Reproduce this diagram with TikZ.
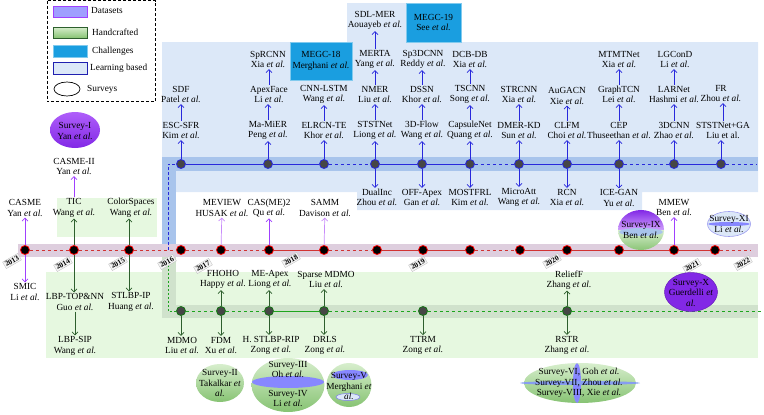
\documentclass[tikz,border=0pt]{standalone}
\usepackage{fontspec}
\setmainfont{Liberation Serif}
\usetikzlibrary{arrows.meta}

\definecolor{dsviolet}{RGB}{160,64,255}
\definecolor{dslight}{RGB}{200,140,250}
\definecolor{hcgreen}{RGB}{45,95,45}
\definecolor{lbblue}{RGB}{40,40,220}
\definecolor{lbfill}{RGB}{220,232,248}
\definecolor{lbband}{RGB}{168,196,236}
\definecolor{hcfill}{RGB}{230,248,224}
\definecolor{hcband}{RGB}{208,226,204}
\definecolor{tlband}{RGB}{222,206,222}
\definecolor{megc}{RGB}{26,158,224}
\definecolor{tlred}{RGB}{210,50,50}
\definecolor{hcline}{RGB}{30,165,30}
\definecolor{nodegray}{RGB}{70,70,70}
\definecolor{svtop}{RGB}{215,238,205}
\definecolor{svbot}{RGB}{135,195,115}
\definecolor{svvtop}{RGB}{175,95,250}
\definecolor{svvbot}{RGB}{130,40,230}
\definecolor{lavband}{RGB}{135,135,255}

\newcommand{\etal}{\textit{et al.}}

\tikzset{
  lbl/.style={align=center, font=\fontsize{9.3}{10.5}\selectfont, inner sep=1pt},
  yearbox/.style={draw=gray!45, fill=gray!8, rotate=30, font=\fontsize{7.5}{7.5}\selectfont\bfseries, inner sep=1.2pt},
  tldot/.style={circle, fill=black, draw=red, line width=0.8pt, minimum size=9pt, inner sep=0pt},
  lbdot/.style={circle, fill=nodegray, draw=lbblue, line width=0.8pt, minimum size=9pt, inner sep=0pt},
  hcdot/.style={circle, fill=nodegray, draw=hcline!70!black, line width=0.8pt, minimum size=9pt, inner sep=0pt},
  megcbox/.style={lbl, draw=megc!55!white, fill=megc, inner sep=2pt},
  tlline/.style={draw=tlred, line width=0.7pt, dash pattern=on 3pt off 2pt},
  lbline/.style={draw=lbblue, line width=0.7pt, dash pattern=on 3pt off 2pt},
  hcline/.style={draw=hcline, line width=0.7pt, dash pattern=on 2pt off 2pt},
  tip/.style={-{Straight Barb[length=3pt,width=6pt]}},
  lbarrow/.style={tip, draw=lbblue, line width=0.7pt},
  hcarrow/.style={tip, draw=hcgreen, line width=0.7pt},
  dsarrow/.style={tip, draw=dsviolet, line width=0.7pt},
  dsarrowlight/.style={tip, draw=dslight, line width=0.7pt}
}

\begin{document}
\begin{tikzpicture}[x=1pt,y=-1pt]
\useasboundingbox (0,0) rectangle (764,415);

% Draw learning based region
\fill[lbfill] (162,42) -- (347,42) -- (347,3) -- (406,3) -- (406,42) -- (758,42) -- (758,192)
  -- (642,192) -- (642,210) -- (357,210) -- (357,192) -- (162,192) -- cycle;
\fill[lbband] (162,157) rectangle (758,171);
\fill[lbband] (162,157) rectangle (176,250);

% Draw handcrafted region
\fill[hcfill] (57,198) rectangle (157,237);
\fill[hcfill] (46,272) rectangle (758,358);
\fill[hcband] (162,250) rectangle (176,318);
\fill[hcband] (162,305) rectangle (758,318);

% Draw timeline band
\fill[tlband] (18,244) rectangle (758,257);

% Draw legend
\draw[densely dashed, line width=0.6pt] (47,0.5) rectangle (155.5,101.5);
\filldraw[fill=lavband!80!white, draw=dsviolet, line width=0.7pt] (53,6) rectangle (87,17);
\shadedraw[top color=svtop, bottom color=svbot, draw=hcgreen, line width=0.7pt] (53,27) rectangle (87,38);
\filldraw[fill=megc, draw=megc!55!white, line width=0.7pt] (53,45) rectangle (87,57);
\filldraw[fill=lbfill, draw=lbblue!80!black, line width=0.7pt] (53,62) rectangle (87,74);
\draw[line width=0.7pt] (67,89) ellipse (13 and 7);
\node[lbl, anchor=west] (lgds) at (90,11) {Datasets};
\node[lbl, anchor=west] (lghc) at (91,32) {Handcrafted};
\node[lbl, anchor=west] (lgch) at (91,51) {Challenges};
\node[lbl, anchor=west] (lglb) at (89,68) {Learning based};
\node[lbl, anchor=west] (lgsv) at (86,89) {Surveys};

% Draw the three tracks
\foreach \i/\x in {1/25,2/74,3/129,4/181,5/221,6/269,7/324,8/377,9/423,10/470,11/520,12/567,13/619,14/674,15/715}
  \node[tldot] (t\i) at (\x,250) {};
\foreach \i/\x in {1/181,2/268,3/324,4/375,5/422,6/470,7/519,8/567,9/619,10/674,11/721}
  \node[lbdot] (b\i) at (\x,164) {};
\foreach \i/\x in {1/181,2/221,3/269,4/324,5/423,6/567}
  \node[hcdot] (g\i) at (\x,311) {};

\coordinate (tend) at (750,250);
\coordinate (bstart) at (168,250);
\coordinate (bturn) at (168,164);
\coordinate (bend) at (756,164);
\coordinate (gstart) at (168,257);
\coordinate (gturn) at (168,311);
\coordinate (gend) at (762,311);

\foreach \s/\e/\st in {t1/t2/dashed, t2/t3/dashed, t3/t4/dashed, t4/t5/dashed, t5/t6/dashed,
    t6/t7/solid, t7/t8/dashed, t8/t9/solid, t9/t10/solid, t10/t11/dashed, t11/t12/solid,
    t12/t13/solid, t13/t14/solid, t14/t15/solid, t15/tend/dashed}
  \draw[tlline, \st] (\s) -- (\e);
\draw[lbline] (bstart) -- (bturn) -- (b1);
\foreach \s/\e/\st in {b1/b2/solid, b2/b3/solid, b3/b4/dashed, b4/b5/solid, b5/b6/solid,
    b6/b7/dashed, b7/b8/solid, b8/b9/solid, b9/b10/dashed, b10/b11/solid, b11/bend/dashed}
  \draw[lbline, \st] (\s) -- (\e);
\draw[hcline] (gstart) -- (gturn) -- (g1);
\foreach \s/\e/\st in {g1/g2/dashed, g2/g3/dashed, g3/g4/solid, g4/g5/dashed, g5/g6/dashed, g6/gend/dashed}
  \draw[hcline, \st] (\s) -- (\e);

% Years
\foreach \y/\x/\yy in {2013/12/261, 2014/63/264, 2015/118/263, 2016/167/262, 2017/203/266,
    2018/291/260, 2019/418/264, 2020/552/261, 2021/692/266, 2022/743/263}
  \node[yearbox] (y\y) at (\x,\yy) {\y};

% Datasets
\node[lbl] (casme) at (25,208) {CASME\\Yan \etal};
\node[lbl] (smic) at (25,292) {SMIC\\Li \etal};
\node[lbl] (casmeii) at (74,166.5) {CASME-II\\Yan \etal};
\node[lbl] (meview) at (222,208) {MEVIEW\\HUSAK \etal};
\node[lbl] (casmetwo) at (269,208) {CAS(ME)2\\Qu \etal};
\node[lbl] (samm) at (325,208) {SAMM\\Davison \etal};
\node[lbl] (mmew) at (674,207.5) {MMEW\\Ben \etal};

% Handcrafted
\node[lbl] (tic) at (74,208) {TIC\\Wang \etal};
\node[lbl] (colorsp) at (131,208) {ColorSpaces\\Wang \etal};
\node[lbl] (lbptop) at (75,302) {LBP-TOP\&NN\\Guo \etal};
\node[lbl] (lbpsip) at (75,346) {LBP-SIP\\Wang \etal};
\node[lbl] (stlbpip) at (131,302) {STLBP-IP\\Huang \etal};
\node[lbl] (mdmo) at (182,345.5) {MDMO\\Liu \etal};
\node[lbl] (fdm) at (221,345.5) {FDM\\Xu \etal};
\node[lbl] (hstlbp) at (271,345.5) {H. STLBP-RIP\\Zong \etal};
\node[lbl] (drls) at (325,345.5) {DRLS\\Zong \etal};
\node[lbl] (ttrm) at (423,345.5) {TTRM\\Zong \etal};
\node[lbl] (rstr) at (567,345.5) {RSTR\\Zhang \etal};
\node[lbl] (fhoho) at (223,279.5) {FHOHO\\Happy \etal};
\node[lbl] (meapex) at (270,279.5) {ME-Apex\\Liong \etal};
\node[lbl] (sparse) at (326,279.5) {Sparse MDMO\\Liu \etal};
\node[lbl] (relieff) at (569,280) {ReliefF\\Zhang \etal};

% Learning based
\node[lbl] (escsfr) at (181,130.5) {ESC-SFR\\Kim \etal};
\node[lbl] (mamier) at (268,130.5) {Ma-MiER\\Peng \etal};
\node[lbl] (elrcn) at (324,130.5) {ELRCN-TE\\Khor \etal};
\node[lbl] (ststnet) at (375,130.5) {STSTNet\\Liong \etal};
\node[lbl] (flowtd) at (422,130.5) {3D-Flow\\Wang \etal};
\node[lbl] (capsule) at (470,130.5) {CapsuleNet\\Quang \etal};
\node[lbl] (dmerkd) at (519,130.5) {DMER-KD\\Sun \etal};
\node[lbl] (clfm) at (567,130.5) {CLFM\\Choi \etal};
\node[lbl] (cep) at (619,130.5) {CEP\\Thuseethan \etal};
\node[lbl] (cnntd) at (674,130.5) {3DCNN\\Zhao \etal};
\node[lbl] (ststga) at (723,130.5) {STSTNet+GA\\Liu et al.};

\node[lbl] (sdf) at (181,94.5) {SDF\\Patel \etal};
\node[lbl] (apexface) at (269,94.5) {ApexFace\\Li \etal};
\node[lbl] (cnnlstm) at (324,94.5) {CNN-LSTM\\Wang \etal};
\node[lbl] (nmer) at (375,94.5) {NMER\\Liu \etal};
\node[lbl] (dssn) at (422,94.5) {DSSN\\Khor \etal};
\node[lbl] (tscnn) at (470,94.5) {TSCNN\\Song \etal};
\node[lbl] (strcnn) at (519,94.5) {STRCNN\\Xia \etal};
\node[lbl] (augacn) at (567,96) {AuGACN\\Xie \etal};
\node[lbl] (graphtcn) at (619,94.5) {GraphTCN\\Lei \etal};
\node[lbl] (larnet) at (674,94.5) {LARNet\\Hashmi \etal};
\node[lbl] (fr) at (721,93.5) {FR\\Zhou \etal};

\node[lbl] (sprcnn) at (268,59.5) {SpRCNN\\Xia \etal};
\node[megcbox, minimum width=62pt, minimum height=38pt] (megcA) at (321,61) {MEGC-18\\Merghani \etal};
\node[lbl] (merta) at (375,59.5) {MERTA\\Yang \etal};
\node[lbl] (spcnn) at (423,59.5) {Sp3DCNN\\Reddy \etal};
\node[lbl] (dcbdb) at (470,59.5) {DCB-DB\\Xia \etal};
\node[lbl] (mtmtnet) at (619,59.5) {MTMTNet\\Xia \etal};
\node[lbl] (lgcond) at (675,59.5) {LGConD\\Li \etal};

\node[lbl] (sdlmer) at (375,20.5) {SDL-MER\\Aouayeb \etal};
\node[megcbox, minimum width=55pt, minimum height=39pt] (megcB) at (433.5,22.5) {MEGC-19\\See \etal};

\node[lbl] (dualinc) at (377,197.5) {DualInc\\Zhou \etal};
\node[lbl] (offapex) at (422,197.5) {OFF-Apex\\Gan \etal};
\node[lbl] (mostfrl) at (470,197.5) {MOSTFRL\\Kim \etal};
\node[lbl] (microatt) at (519,197.5) {MicroAtt\\Wang \etal};
\node[lbl] (rcn) at (567,197.5) {RCN\\Xia \etal};
\node[lbl] (icegan) at (619,198) {ICE-GAN\\Yu \etal};

% Arrows
\foreach \s/\e in {t1/casme, t1/smic, tic/casmeii, t6/casmetwo, t14/mmew}
  \draw[dsarrow] (\s) -- (\e);
\foreach \s/\e in {t5/meview, t7/samm}
  \draw[dsarrowlight] (\s) -- (\e);
\foreach \s/\e in {t2/tic, t3/colorsp, g2/fhoho, g3/meapex, g4/sparse, g6/relieff}
  \draw[hcarrow] (\s) -- (\s |- \e.south);
\foreach \s/\e in {t2/lbptop, lbptop/lbpsip, t3/stlbpip, g1/mdmo, g2/fdm,
    g3/hstlbp, g4/drls, g5/ttrm, g6/rstr}
  \draw[hcarrow] (\s) -- (\s |- \e.north);
\foreach \s/\e in {b1/escsfr, b2/mamier, b3/elrcn, b4/ststnet, b5/flowtd, b6/capsule, b7/dmerkd,
    b8/clfm, b9/cep, b10/cnntd, b11/ststga, escsfr/sdf, mamier/apexface, elrcn/cnnlstm, ststnet/nmer,
    flowtd/dssn, capsule/tscnn, dmerkd/strcnn, clfm/augacn, cep/graphtcn, cnntd/larnet, ststga/fr,
    apexface/sprcnn, nmer/merta, dssn/spcnn, tscnn/dcbdb, graphtcn/mtmtnet, larnet/lgcond, merta/sdlmer}
  \draw[lbarrow] (\s) -- (\s |- \e.south);
\foreach \s/\e in {b4/dualinc, b5/offapex, b6/mostfrl, b7/microatt, b8/rcn, b9/icegan}
  \draw[lbarrow] (\s) -- (\s |- \e.north);

% Surveys
\shade[top color=svvtop, bottom color=svvbot] (75,130) ellipse (25 and 18);
\node[lbl] (survI) at (75,131) {Survey-I\\Yan \etal};

\shade[top color=svtop, bottom color=svbot] (220,383) ellipse (24 and 19);
\node[lbl] (survII) at (220,383) {Survey-II\\Takalkar \textit{et}\\\textit{al.}};

\shade[top color=svtop, bottom color=svbot] (288,385) ellipse (36.5 and 27);
\fill[lavband] (288,382) ellipse (36 and 6);
\node[lbl] (survIII) at (288,369.5) {Survey-III\\Oh \etal};
\node[lbl] (survIV) at (288,398.5) {Survey-IV\\Li \etal};

\shade[top color=svtop, bottom color=svbot] (349,385) ellipse (22.5 and 22);
\fill[lavband] (350,375) ellipse (18 and 5);
\filldraw[fill=lbfill, draw=lbblue!60!white, line width=0.5pt] (348,397) ellipse (12 and 3.5);
\node[lbl] (survV) at (349,386) {Survey-V\\Merghani \textit{et}\\\textit{al.}};

\shade[top color=svtop, bottom color=svbot] (580,383) ellipse (56 and 20);
\fill[lavband] (577,383) ellipse (4 and 20);
\fill[lbband!80!blue] (580,383) ellipse (60 and 2);
\node[lbl] (survVI) at (579,383) {Survey-VI, Goh \etal\\Survey-VII, Zhou \etal\\Survey-VIII, Xie \etal};

\begin{scope}
  \clip (641,230) ellipse (23 and 20);
  \shade[top color=svvbot, bottom color=svvtop!60!white] (617,210) rectangle (665,230);
  \shade[top color=svtop, bottom color=svbot] (617,230) rectangle (665,251);
\end{scope}
\fill[lbband] (641,232) ellipse (22 and 4);
\node[lbl] (survIX) at (641,230) {Survey-IX\\Ben \etal};

\filldraw[fill=svvbot, draw=svvbot!80!black, line width=0.5pt] (691,292) ellipse (26.5 and 19.5);
\node[lbl] (survX) at (691,292.5) {Survey-X\\Guerdelli \textit{et}\\\textit{al.}};

\filldraw[fill=lbfill, draw=lbblue!45!white, line width=0.6pt] (729,224) ellipse (21.5 and 12.5);
\fill[lavband] (729,224) ellipse (21 and 2);
\node[lbl] (survXI) at (729,224) {Survey-XI\\Li \etal};

\end{tikzpicture}
\end{document}
